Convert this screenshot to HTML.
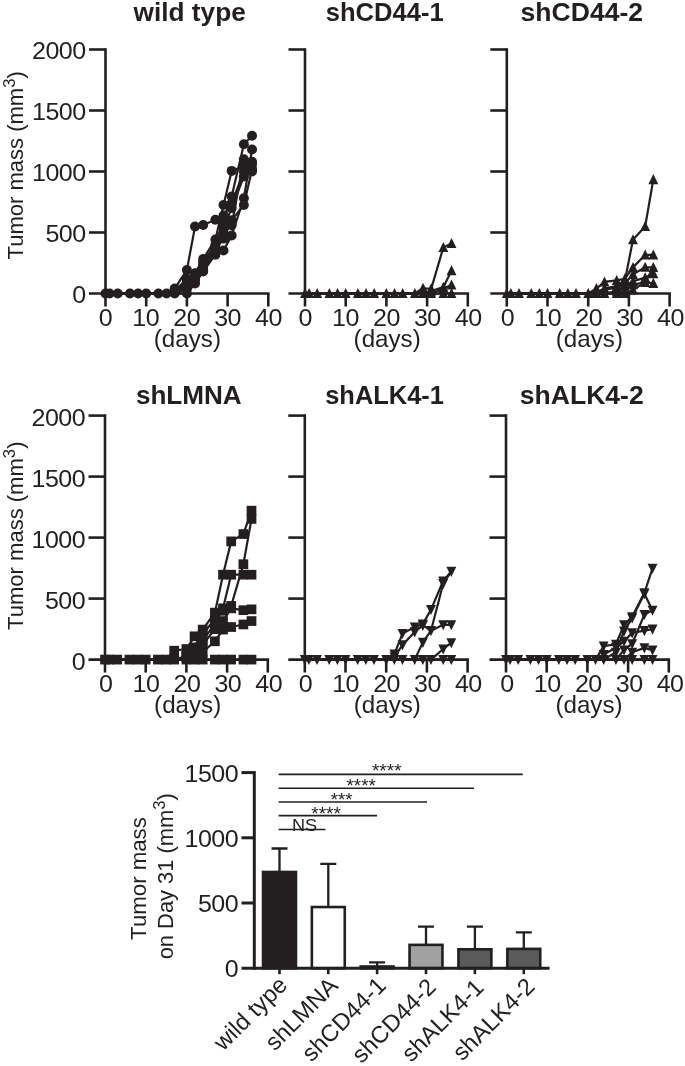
<!DOCTYPE html>
<html><head><meta charset="utf-8"><title>Tumor mass</title>
<style>
html,body{margin:0;padding:0;background:#fff;}
body{width:685px;height:1066px;overflow:hidden;font-family:"Liberation Sans", sans-serif;}
svg{display:block;font-family:"Liberation Sans", sans-serif;will-change:transform;}
</style></head><body>
<svg width="685" height="1066" viewBox="0 0 685 1066">
<rect width="685" height="1066" fill="#ffffff"/>
<g stroke="#231f20" stroke-width="2.6" fill="none" stroke-linecap="butt">
<path d="M105.5 48.2V306.5"/>
<path d="M89 293.5H269.6"/>
<path d="M89 232.5H105.5"/>
<path d="M89 171.5H105.5"/>
<path d="M89 110.5H105.5"/>
<path d="M89 49.5H105.5"/>
<path d="M146.2 293.5V306.5"/>
<path d="M186.9 293.5V306.5"/>
<path d="M227.6 293.5V306.5"/>
<path d="M268.3 293.5V306.5"/>
</g>
<g fill="#231f20">
<text transform="translate(98.73 326) scale(1.062 1)" font-size="23.6" letter-spacing="-0.5">0</text>
<text transform="translate(132.26 326) scale(1.062 1)" font-size="23.6" letter-spacing="-0.5">10</text>
<text transform="translate(173.29 326) scale(1.062 1)" font-size="23.6" letter-spacing="-0.5">20</text>
<text transform="translate(214.14 326) scale(1.062 1)" font-size="23.6" letter-spacing="-0.5">30</text>
<text transform="translate(255.03 326) scale(1.062 1)" font-size="23.6" letter-spacing="-0.5">40</text>
<text transform="translate(153.8 346.5) scale(1.025 1)" font-size="23.6">(days)</text>
<text transform="translate(72.24 303.1) scale(1.062 1)" font-size="23.6" letter-spacing="-0.5">0</text>
<text transform="translate(45.42 242.1) scale(1.062 1)" font-size="23.6" letter-spacing="-0.5">500</text>
<text transform="translate(32.02 181.1) scale(1.062 1)" font-size="23.6" letter-spacing="-0.5">1000</text>
<text transform="translate(32.02 120.1) scale(1.062 1)" font-size="23.6" letter-spacing="-0.5">1500</text>
<text transform="translate(32.02 59.1) scale(1.062 1)" font-size="23.6" letter-spacing="-0.5">2000</text>
<text x="-0.5" y="0" transform="translate(22.6 259) rotate(-90) scale(0.9881 1)" font-size="22.3">Tumor mass (mm<tspan font-size="17" dy="-7.8">3</tspan><tspan dy="7.8">)</tspan></text>
<text transform="translate(133.58 20.7) scale(1.0492 1)" font-size="25" font-weight="bold">wild type</text>
</g>
<g stroke="#231f20" stroke-width="2.2" fill="none" stroke-linejoin="round">
<polyline points="105.5,293.5 109.57,293.5 117.71,293.5 129.92,293.5 138.06,293.5 146.2,293.5 158.41,293.5 166.55,293.5 174.69,288.62 186.9,269.95 195.04,226.52 203.18,224.94 215.39,219.81 223.53,215.42 231.67,203.22 243.88,171.5 252.02,169.06"/>
<polyline points="105.5,293.5 109.57,293.5 117.71,293.5 129.92,293.5 138.06,293.5 146.2,293.5 158.41,293.5 166.55,293.5 174.69,292.28 186.9,281.3 195.04,273.37 203.18,258.97 215.39,239.58 223.53,205.05 231.67,170.89 243.88,166.62 252.02,161.74"/>
<polyline points="105.5,293.5 109.57,293.5 117.71,293.5 129.92,293.5 138.06,293.5 146.2,293.5 158.41,293.5 166.55,293.5 174.69,293.5 186.9,286.18 195.04,276.42 203.18,261.78 215.39,244.7 223.53,220.3 231.67,196.51 243.88,144.17 252.02,135.75"/>
<polyline points="105.5,293.5 109.57,293.5 117.71,293.5 129.92,293.5 138.06,293.5 146.2,293.5 158.41,293.5 166.55,293.5 174.69,293.5 186.9,293.5 195.04,283.5 203.18,271.54 215.39,254.7 223.53,250.56 231.67,235.43 243.88,198.22 252.02,149.54"/>
<polyline points="105.5,293.5 109.57,293.5 117.71,293.5 129.92,293.5 138.06,293.5 146.2,293.5 158.41,293.5 166.55,293.5 174.69,291.06 186.9,278.86 195.04,280.08 203.18,265.44 215.39,249.58 223.53,238.6 231.67,220.18 243.88,205.05 252.02,169.55"/>
<polyline points="105.5,293.5 109.57,293.5 117.71,293.5 129.92,293.5 138.06,293.5 146.2,293.5 158.41,293.5 166.55,293.5 174.69,293.5 186.9,288.62 195.04,277.64 203.18,269.1 215.39,252.02 223.53,227.62 231.67,208.1 243.88,176.38 252.02,164.18"/>
<polyline points="105.5,293.5 109.57,293.5 117.71,293.5 129.92,293.5 138.06,293.5 146.2,293.5 158.41,293.5 166.55,293.5 174.69,293.5 186.9,283.74 195.04,275.2 203.18,263 215.39,247.14 223.53,232.5 231.67,225.18 243.88,159.3 252.02,171.5"/>
</g>
<g fill="#231f20">
<circle cx="105.5" cy="293.5" r="5.0"/>
<circle cx="109.57" cy="293.5" r="5.0"/>
<circle cx="117.71" cy="293.5" r="5.0"/>
<circle cx="129.92" cy="293.5" r="5.0"/>
<circle cx="138.06" cy="293.5" r="5.0"/>
<circle cx="146.2" cy="293.5" r="5.0"/>
<circle cx="158.41" cy="293.5" r="5.0"/>
<circle cx="166.55" cy="293.5" r="5.0"/>
<circle cx="174.69" cy="288.62" r="5.0"/>
<circle cx="186.9" cy="269.95" r="5.0"/>
<circle cx="195.04" cy="226.52" r="5.0"/>
<circle cx="203.18" cy="224.94" r="5.0"/>
<circle cx="215.39" cy="219.81" r="5.0"/>
<circle cx="223.53" cy="215.42" r="5.0"/>
<circle cx="231.67" cy="203.22" r="5.0"/>
<circle cx="243.88" cy="171.5" r="5.0"/>
<circle cx="252.02" cy="169.06" r="5.0"/>
<circle cx="174.69" cy="292.28" r="5.0"/>
<circle cx="186.9" cy="281.3" r="5.0"/>
<circle cx="195.04" cy="273.37" r="5.0"/>
<circle cx="203.18" cy="258.97" r="5.0"/>
<circle cx="215.39" cy="239.58" r="5.0"/>
<circle cx="223.53" cy="205.05" r="5.0"/>
<circle cx="231.67" cy="170.89" r="5.0"/>
<circle cx="243.88" cy="166.62" r="5.0"/>
<circle cx="252.02" cy="161.74" r="5.0"/>
<circle cx="174.69" cy="293.5" r="5.0"/>
<circle cx="186.9" cy="286.18" r="5.0"/>
<circle cx="195.04" cy="276.42" r="5.0"/>
<circle cx="203.18" cy="261.78" r="5.0"/>
<circle cx="215.39" cy="244.7" r="5.0"/>
<circle cx="223.53" cy="220.3" r="5.0"/>
<circle cx="231.67" cy="196.51" r="5.0"/>
<circle cx="243.88" cy="144.17" r="5.0"/>
<circle cx="252.02" cy="135.75" r="5.0"/>
<circle cx="186.9" cy="293.5" r="5.0"/>
<circle cx="195.04" cy="283.5" r="5.0"/>
<circle cx="203.18" cy="271.54" r="5.0"/>
<circle cx="215.39" cy="254.7" r="5.0"/>
<circle cx="223.53" cy="250.56" r="5.0"/>
<circle cx="231.67" cy="235.43" r="5.0"/>
<circle cx="243.88" cy="198.22" r="5.0"/>
<circle cx="252.02" cy="149.54" r="5.0"/>
<circle cx="174.69" cy="291.06" r="5.0"/>
<circle cx="186.9" cy="278.86" r="5.0"/>
<circle cx="195.04" cy="280.08" r="5.0"/>
<circle cx="203.18" cy="265.44" r="5.0"/>
<circle cx="215.39" cy="249.58" r="5.0"/>
<circle cx="223.53" cy="238.6" r="5.0"/>
<circle cx="231.67" cy="220.18" r="5.0"/>
<circle cx="243.88" cy="205.05" r="5.0"/>
<circle cx="252.02" cy="169.55" r="5.0"/>
<circle cx="186.9" cy="288.62" r="5.0"/>
<circle cx="195.04" cy="277.64" r="5.0"/>
<circle cx="203.18" cy="269.1" r="5.0"/>
<circle cx="215.39" cy="252.02" r="5.0"/>
<circle cx="223.53" cy="227.62" r="5.0"/>
<circle cx="231.67" cy="208.1" r="5.0"/>
<circle cx="243.88" cy="176.38" r="5.0"/>
<circle cx="252.02" cy="164.18" r="5.0"/>
<circle cx="186.9" cy="283.74" r="5.0"/>
<circle cx="195.04" cy="275.2" r="5.0"/>
<circle cx="203.18" cy="263" r="5.0"/>
<circle cx="215.39" cy="247.14" r="5.0"/>
<circle cx="223.53" cy="232.5" r="5.0"/>
<circle cx="231.67" cy="225.18" r="5.0"/>
<circle cx="243.88" cy="159.3" r="5.0"/>
<circle cx="252.02" cy="171.5" r="5.0"/>
</g>
<g stroke="#231f20" stroke-width="2.6" fill="none" stroke-linecap="butt">
<path d="M305 48.2V306.5"/>
<path d="M288.5 293.5H469.1"/>
<path d="M288.5 232.5H305"/>
<path d="M288.5 171.5H305"/>
<path d="M288.5 110.5H305"/>
<path d="M288.5 49.5H305"/>
<path d="M345.7 293.5V306.5"/>
<path d="M386.4 293.5V306.5"/>
<path d="M427.1 293.5V306.5"/>
<path d="M467.8 293.5V306.5"/>
</g>
<g fill="#231f20">
<text transform="translate(298.53 326) scale(1.062 1)" font-size="23.6" letter-spacing="-0.5">0</text>
<text transform="translate(332.06 326) scale(1.062 1)" font-size="23.6" letter-spacing="-0.5">10</text>
<text transform="translate(373.09 326) scale(1.062 1)" font-size="23.6" letter-spacing="-0.5">20</text>
<text transform="translate(413.94 326) scale(1.062 1)" font-size="23.6" letter-spacing="-0.5">30</text>
<text transform="translate(454.83 326) scale(1.062 1)" font-size="23.6" letter-spacing="-0.5">40</text>
<text transform="translate(353.6 346.5) scale(1.025 1)" font-size="23.6">(days)</text>
<text transform="translate(325.7 20.7) scale(1.0233 1)" font-size="25" font-weight="bold">shCD44-1</text>
</g>
<g stroke="#231f20" stroke-width="2.2" fill="none" stroke-linejoin="round">
<polyline points="305,293.5 309.07,293.5 317.21,293.5 329.42,293.5 337.56,293.5 345.7,293.5 357.91,293.5 366.05,293.5 374.19,293.5 386.4,293.5 394.54,293.5 402.68,293.5 414.89,293.5 423.03,288.25 431.17,288.86 443.38,247.38 451.52,243.48"/>
<polyline points="305,293.5 309.07,293.5 317.21,293.5 329.42,293.5 337.56,293.5 345.7,293.5 357.91,293.5 366.05,293.5 374.19,293.5 386.4,293.5 394.54,293.5 402.68,293.5 414.89,293.5 423.03,293.5 431.17,291.06 443.38,287.16 451.52,270.56"/>
<polyline points="305,293.5 309.07,293.5 317.21,293.5 329.42,293.5 337.56,293.5 345.7,293.5 357.91,293.5 366.05,293.5 374.19,293.5 386.4,293.5 394.54,293.5 402.68,293.5 414.89,293.5 423.03,293.5 431.17,293.5 443.38,288.62 451.52,284.96"/>
<polyline points="305,293.5 309.07,293.5 317.21,293.5 329.42,293.5 337.56,293.5 345.7,293.5 357.91,293.5 366.05,293.5 374.19,293.5 386.4,293.5 394.54,293.5 402.68,293.5 414.89,293.5 423.03,293.5 431.17,293.5 443.38,293.5 451.52,293.5"/>
</g>
<g fill="#231f20">
<path d="M305 288L309.95 298.1L300.05 298.1Z"/>
<path d="M309.07 288L314.02 298.1L304.12 298.1Z"/>
<path d="M317.21 288L322.16 298.1L312.26 298.1Z"/>
<path d="M329.42 288L334.37 298.1L324.47 298.1Z"/>
<path d="M337.56 288L342.51 298.1L332.61 298.1Z"/>
<path d="M345.7 288L350.65 298.1L340.75 298.1Z"/>
<path d="M357.91 288L362.86 298.1L352.96 298.1Z"/>
<path d="M366.05 288L371 298.1L361.1 298.1Z"/>
<path d="M374.19 288L379.14 298.1L369.24 298.1Z"/>
<path d="M386.4 288L391.35 298.1L381.45 298.1Z"/>
<path d="M394.54 288L399.49 298.1L389.59 298.1Z"/>
<path d="M402.68 288L407.63 298.1L397.73 298.1Z"/>
<path d="M414.89 288L419.84 298.1L409.94 298.1Z"/>
<path d="M423.03 282.75L427.98 292.85L418.08 292.85Z"/>
<path d="M431.17 283.36L436.12 293.46L426.22 293.46Z"/>
<path d="M443.38 241.88L448.33 251.98L438.43 251.98Z"/>
<path d="M451.52 237.98L456.47 248.08L446.57 248.08Z"/>
<path d="M423.03 288L427.98 298.1L418.08 298.1Z"/>
<path d="M431.17 285.56L436.12 295.66L426.22 295.66Z"/>
<path d="M443.38 281.66L448.33 291.76L438.43 291.76Z"/>
<path d="M451.52 265.06L456.47 275.16L446.57 275.16Z"/>
<path d="M431.17 288L436.12 298.1L426.22 298.1Z"/>
<path d="M443.38 283.12L448.33 293.22L438.43 293.22Z"/>
<path d="M451.52 279.46L456.47 289.56L446.57 289.56Z"/>
<path d="M443.38 288L448.33 298.1L438.43 298.1Z"/>
<path d="M451.52 288L456.47 298.1L446.57 298.1Z"/>
</g>
<g stroke="#231f20" stroke-width="2.6" fill="none" stroke-linecap="butt">
<path d="M506.8 48.2V306.5"/>
<path d="M490.3 293.5H670.9"/>
<path d="M490.3 232.5H506.8"/>
<path d="M490.3 171.5H506.8"/>
<path d="M490.3 110.5H506.8"/>
<path d="M490.3 49.5H506.8"/>
<path d="M547.5 293.5V306.5"/>
<path d="M588.2 293.5V306.5"/>
<path d="M628.9 293.5V306.5"/>
<path d="M669.6 293.5V306.5"/>
</g>
<g fill="#231f20">
<text transform="translate(500.73 326) scale(1.062 1)" font-size="23.6" letter-spacing="-0.5">0</text>
<text transform="translate(534.26 326) scale(1.062 1)" font-size="23.6" letter-spacing="-0.5">10</text>
<text transform="translate(575.29 326) scale(1.062 1)" font-size="23.6" letter-spacing="-0.5">20</text>
<text transform="translate(616.14 326) scale(1.062 1)" font-size="23.6" letter-spacing="-0.5">30</text>
<text transform="translate(657.03 326) scale(1.062 1)" font-size="23.6" letter-spacing="-0.5">40</text>
<text transform="translate(555.8 346.5) scale(1.025 1)" font-size="23.6">(days)</text>
<text transform="translate(520.57 20.7) scale(1.0631 1)" font-size="25" font-weight="bold">shCD44-2</text>
</g>
<g stroke="#231f20" stroke-width="2.2" fill="none" stroke-linejoin="round">
<polyline points="506.8,293.5 510.87,293.5 519.01,293.5 531.22,293.5 539.36,293.5 547.5,293.5 559.71,293.5 567.85,293.5 575.99,293.5 588.2,293.5 596.34,292.28 604.48,288.62 616.69,286.18 624.83,281.3 632.97,239.7 645.18,226.4 653.32,179.55"/>
<polyline points="506.8,293.5 510.87,293.5 519.01,293.5 531.22,293.5 539.36,293.5 547.5,293.5 559.71,293.5 567.85,293.5 575.99,293.5 588.2,293.5 596.34,288.62 604.48,281.91 616.69,280.45 624.83,278.86 632.97,267.39 645.18,254.95 653.32,254.95"/>
<polyline points="506.8,293.5 510.87,293.5 519.01,293.5 531.22,293.5 539.36,293.5 547.5,293.5 559.71,293.5 567.85,293.5 575.99,293.5 588.2,293.5 596.34,293.5 604.48,289.84 616.69,287.4 624.83,283.74 632.97,274.35 645.18,267.27 653.32,267.39"/>
<polyline points="506.8,293.5 510.87,293.5 519.01,293.5 531.22,293.5 539.36,293.5 547.5,293.5 559.71,293.5 567.85,293.5 575.99,293.5 588.2,293.5 596.34,293.5 604.48,293.5 616.69,291.06 624.83,286.18 632.97,281.3 645.18,277.64 653.32,273.61"/>
<polyline points="506.8,293.5 510.87,293.5 519.01,293.5 531.22,293.5 539.36,293.5 547.5,293.5 559.71,293.5 567.85,293.5 575.99,293.5 588.2,293.5 596.34,293.5 604.48,293.5 616.69,293.5 624.83,291.06 632.97,284.59 645.18,282.4 653.32,283.37"/>
<polyline points="506.8,293.5 510.87,293.5 519.01,293.5 531.22,293.5 539.36,293.5 547.5,293.5 559.71,293.5 567.85,293.5 575.99,293.5 588.2,293.5 596.34,293.5 604.48,293.5 616.69,293.5 624.83,293.5 632.97,289.84 645.18,282.4 653.32,267.39"/>
</g>
<g fill="#231f20">
<path d="M506.8 288L511.75 298.1L501.85 298.1Z"/>
<path d="M510.87 288L515.82 298.1L505.92 298.1Z"/>
<path d="M519.01 288L523.96 298.1L514.06 298.1Z"/>
<path d="M531.22 288L536.17 298.1L526.27 298.1Z"/>
<path d="M539.36 288L544.31 298.1L534.41 298.1Z"/>
<path d="M547.5 288L552.45 298.1L542.55 298.1Z"/>
<path d="M559.71 288L564.66 298.1L554.76 298.1Z"/>
<path d="M567.85 288L572.8 298.1L562.9 298.1Z"/>
<path d="M575.99 288L580.94 298.1L571.04 298.1Z"/>
<path d="M588.2 288L593.15 298.1L583.25 298.1Z"/>
<path d="M596.34 286.78L601.29 296.88L591.39 296.88Z"/>
<path d="M604.48 283.12L609.43 293.22L599.53 293.22Z"/>
<path d="M616.69 280.68L621.64 290.78L611.74 290.78Z"/>
<path d="M624.83 275.8L629.78 285.9L619.88 285.9Z"/>
<path d="M632.97 234.2L637.92 244.3L628.02 244.3Z"/>
<path d="M645.18 220.9L650.13 231L640.23 231Z"/>
<path d="M653.32 174.05L658.27 184.15L648.37 184.15Z"/>
<path d="M596.34 283.12L601.29 293.22L591.39 293.22Z"/>
<path d="M604.48 276.41L609.43 286.51L599.53 286.51Z"/>
<path d="M616.69 274.95L621.64 285.05L611.74 285.05Z"/>
<path d="M624.83 273.36L629.78 283.46L619.88 283.46Z"/>
<path d="M632.97 261.89L637.92 271.99L628.02 271.99Z"/>
<path d="M645.18 249.45L650.13 259.55L640.23 259.55Z"/>
<path d="M653.32 249.45L658.27 259.55L648.37 259.55Z"/>
<path d="M596.34 288L601.29 298.1L591.39 298.1Z"/>
<path d="M604.48 284.34L609.43 294.44L599.53 294.44Z"/>
<path d="M616.69 281.9L621.64 292L611.74 292Z"/>
<path d="M624.83 278.24L629.78 288.34L619.88 288.34Z"/>
<path d="M632.97 268.85L637.92 278.95L628.02 278.95Z"/>
<path d="M645.18 261.77L650.13 271.87L640.23 271.87Z"/>
<path d="M653.32 261.89L658.27 271.99L648.37 271.99Z"/>
<path d="M604.48 288L609.43 298.1L599.53 298.1Z"/>
<path d="M616.69 285.56L621.64 295.66L611.74 295.66Z"/>
<path d="M624.83 280.68L629.78 290.78L619.88 290.78Z"/>
<path d="M632.97 275.8L637.92 285.9L628.02 285.9Z"/>
<path d="M645.18 272.14L650.13 282.24L640.23 282.24Z"/>
<path d="M653.32 268.11L658.27 278.21L648.37 278.21Z"/>
<path d="M616.69 288L621.64 298.1L611.74 298.1Z"/>
<path d="M624.83 285.56L629.78 295.66L619.88 295.66Z"/>
<path d="M632.97 279.09L637.92 289.19L628.02 289.19Z"/>
<path d="M645.18 276.9L650.13 287L640.23 287Z"/>
<path d="M653.32 277.87L658.27 287.97L648.37 287.97Z"/>
<path d="M624.83 288L629.78 298.1L619.88 298.1Z"/>
<path d="M632.97 284.34L637.92 294.44L628.02 294.44Z"/>
</g>
<g stroke="#231f20" stroke-width="2.6" fill="none" stroke-linecap="butt">
<path d="M105 414.3V672.6"/>
<path d="M88.5 659.6H269.1"/>
<path d="M88.5 598.6H105"/>
<path d="M88.5 537.6H105"/>
<path d="M88.5 476.6H105"/>
<path d="M88.5 415.6H105"/>
<path d="M145.7 659.6V672.6"/>
<path d="M186.4 659.6V672.6"/>
<path d="M227.1 659.6V672.6"/>
<path d="M267.8 659.6V672.6"/>
</g>
<g fill="#231f20">
<text transform="translate(99.03 692.1) scale(1.062 1)" font-size="23.6" letter-spacing="-0.5">0</text>
<text transform="translate(132.56 692.1) scale(1.062 1)" font-size="23.6" letter-spacing="-0.5">10</text>
<text transform="translate(173.59 692.1) scale(1.062 1)" font-size="23.6" letter-spacing="-0.5">20</text>
<text transform="translate(214.44 692.1) scale(1.062 1)" font-size="23.6" letter-spacing="-0.5">30</text>
<text transform="translate(255.33 692.1) scale(1.062 1)" font-size="23.6" letter-spacing="-0.5">40</text>
<text transform="translate(154.1 712.6) scale(1.025 1)" font-size="23.6">(days)</text>
<text transform="translate(71.74 669.8) scale(1.062 1)" font-size="23.6" letter-spacing="-0.5">0</text>
<text transform="translate(44.92 608.8) scale(1.062 1)" font-size="23.6" letter-spacing="-0.5">500</text>
<text transform="translate(31.52 547.8) scale(1.062 1)" font-size="23.6" letter-spacing="-0.5">1000</text>
<text transform="translate(31.52 486.8) scale(1.062 1)" font-size="23.6" letter-spacing="-0.5">1500</text>
<text transform="translate(31.52 425.8) scale(1.062 1)" font-size="23.6" letter-spacing="-0.5">2000</text>
<text x="-0.5" y="0" transform="translate(22.6 629.4) rotate(-90) scale(0.9881 1)" font-size="22.3">Tumor mass (mm<tspan font-size="17" dy="-7.8">3</tspan><tspan dy="7.8">)</tspan></text>
<text transform="translate(135.88 404.1) scale(1.0447 1)" font-size="25" font-weight="bold">shLMNA</text>
</g>
<g stroke="#231f20" stroke-width="2.2" fill="none" stroke-linejoin="round">
<polyline points="105,659.6 109.07,659.6 117.21,659.6 129.42,659.6 137.56,659.6 145.7,659.6 157.91,659.6 166.05,659.6 174.19,659.6 186.4,655.94 194.54,647.4 202.68,629.59 214.89,612.63 223.03,574.69 231.17,541.38 243.38,534.06 251.52,510.64"/>
<polyline points="105,659.6 109.07,659.6 117.21,659.6 129.42,659.6 137.56,659.6 145.7,659.6 157.91,659.6 166.05,659.6 174.19,659.6 186.4,659.6 194.54,653.5 202.68,641.3 214.89,623 223.03,608.36 231.17,574.69 243.38,574.69 251.52,574.69"/>
<polyline points="105,659.6 109.07,659.6 117.21,659.6 129.42,659.6 137.56,659.6 145.7,659.6 157.91,659.6 166.05,659.6 174.19,650.69 186.4,648.99 194.54,636.3 202.68,635.2 214.89,618.12 223.03,610.8 231.17,605.92 243.38,564.2 251.52,518.93"/>
<polyline points="105,659.6 109.07,659.6 117.21,659.6 129.42,659.6 137.56,659.6 145.7,659.6 157.91,659.6 166.05,659.6 174.19,659.6 186.4,657.16 194.54,649.84 202.68,644.96 214.89,629.1 223.03,621.05 231.17,608.36 243.38,610.19 251.52,609.34"/>
<polyline points="105,659.6 109.07,659.6 117.21,659.6 129.42,659.6 137.56,659.6 145.7,659.6 157.91,659.6 166.05,659.6 174.19,659.6 186.4,659.6 194.54,655.94 202.68,652.28 214.89,641.3 223.03,629.59 231.17,627.03 243.38,624.46 251.52,621.05"/>
<polyline points="105,659.6 109.07,659.6 117.21,659.6 129.42,659.6 137.56,659.6 145.7,659.6 157.91,659.6 166.05,659.6 174.19,659.6 186.4,659.6 194.54,659.6 202.68,659.6 214.89,659.6 223.03,659.6 231.17,659.6 243.38,659.6 251.52,659.6"/>
</g>
<g fill="#231f20">
<rect x="100.15" y="654.75" width="9.7" height="9.7"/>
<rect x="104.22" y="654.75" width="9.7" height="9.7"/>
<rect x="112.36" y="654.75" width="9.7" height="9.7"/>
<rect x="124.57" y="654.75" width="9.7" height="9.7"/>
<rect x="132.71" y="654.75" width="9.7" height="9.7"/>
<rect x="140.85" y="654.75" width="9.7" height="9.7"/>
<rect x="153.06" y="654.75" width="9.7" height="9.7"/>
<rect x="161.2" y="654.75" width="9.7" height="9.7"/>
<rect x="169.34" y="654.75" width="9.7" height="9.7"/>
<rect x="181.55" y="651.09" width="9.7" height="9.7"/>
<rect x="189.69" y="642.55" width="9.7" height="9.7"/>
<rect x="197.83" y="624.74" width="9.7" height="9.7"/>
<rect x="210.04" y="607.78" width="9.7" height="9.7"/>
<rect x="218.18" y="569.84" width="9.7" height="9.7"/>
<rect x="226.32" y="536.53" width="9.7" height="9.7"/>
<rect x="238.53" y="529.21" width="9.7" height="9.7"/>
<rect x="246.67" y="505.79" width="9.7" height="9.7"/>
<rect x="181.55" y="654.75" width="9.7" height="9.7"/>
<rect x="189.69" y="648.65" width="9.7" height="9.7"/>
<rect x="197.83" y="636.45" width="9.7" height="9.7"/>
<rect x="210.04" y="618.15" width="9.7" height="9.7"/>
<rect x="218.18" y="603.51" width="9.7" height="9.7"/>
<rect x="226.32" y="569.84" width="9.7" height="9.7"/>
<rect x="238.53" y="569.84" width="9.7" height="9.7"/>
<rect x="246.67" y="569.84" width="9.7" height="9.7"/>
<rect x="169.34" y="645.84" width="9.7" height="9.7"/>
<rect x="181.55" y="644.14" width="9.7" height="9.7"/>
<rect x="189.69" y="631.45" width="9.7" height="9.7"/>
<rect x="197.83" y="630.35" width="9.7" height="9.7"/>
<rect x="210.04" y="613.27" width="9.7" height="9.7"/>
<rect x="218.18" y="605.95" width="9.7" height="9.7"/>
<rect x="226.32" y="601.07" width="9.7" height="9.7"/>
<rect x="238.53" y="559.35" width="9.7" height="9.7"/>
<rect x="246.67" y="514.08" width="9.7" height="9.7"/>
<rect x="181.55" y="652.31" width="9.7" height="9.7"/>
<rect x="189.69" y="644.99" width="9.7" height="9.7"/>
<rect x="197.83" y="640.11" width="9.7" height="9.7"/>
<rect x="210.04" y="624.25" width="9.7" height="9.7"/>
<rect x="218.18" y="616.2" width="9.7" height="9.7"/>
<rect x="226.32" y="603.51" width="9.7" height="9.7"/>
<rect x="238.53" y="605.34" width="9.7" height="9.7"/>
<rect x="246.67" y="604.49" width="9.7" height="9.7"/>
<rect x="189.69" y="651.09" width="9.7" height="9.7"/>
<rect x="197.83" y="647.43" width="9.7" height="9.7"/>
<rect x="210.04" y="636.45" width="9.7" height="9.7"/>
<rect x="218.18" y="624.74" width="9.7" height="9.7"/>
<rect x="226.32" y="622.18" width="9.7" height="9.7"/>
<rect x="238.53" y="619.61" width="9.7" height="9.7"/>
<rect x="246.67" y="616.2" width="9.7" height="9.7"/>
<rect x="189.69" y="654.75" width="9.7" height="9.7"/>
<rect x="197.83" y="654.75" width="9.7" height="9.7"/>
<rect x="210.04" y="654.75" width="9.7" height="9.7"/>
<rect x="218.18" y="654.75" width="9.7" height="9.7"/>
<rect x="226.32" y="654.75" width="9.7" height="9.7"/>
<rect x="238.53" y="654.75" width="9.7" height="9.7"/>
<rect x="246.67" y="654.75" width="9.7" height="9.7"/>
</g>
<g stroke="#231f20" stroke-width="2.6" fill="none" stroke-linecap="butt">
<path d="M304.8 414.3V672.6"/>
<path d="M288.3 659.6H468.9"/>
<path d="M288.3 598.6H304.8"/>
<path d="M288.3 537.6H304.8"/>
<path d="M288.3 476.6H304.8"/>
<path d="M288.3 415.6H304.8"/>
<path d="M345.5 659.6V672.6"/>
<path d="M386.2 659.6V672.6"/>
<path d="M426.9 659.6V672.6"/>
<path d="M467.6 659.6V672.6"/>
</g>
<g fill="#231f20">
<text transform="translate(298.63 692.1) scale(1.062 1)" font-size="23.6" letter-spacing="-0.5">0</text>
<text transform="translate(332.16 692.1) scale(1.062 1)" font-size="23.6" letter-spacing="-0.5">10</text>
<text transform="translate(373.19 692.1) scale(1.062 1)" font-size="23.6" letter-spacing="-0.5">20</text>
<text transform="translate(414.04 692.1) scale(1.062 1)" font-size="23.6" letter-spacing="-0.5">30</text>
<text transform="translate(454.93 692.1) scale(1.062 1)" font-size="23.6" letter-spacing="-0.5">40</text>
<text transform="translate(353.7 712.6) scale(1.025 1)" font-size="23.6">(days)</text>
<text transform="translate(325.21 404.1) scale(1.0181 1)" font-size="25" font-weight="bold">shALK4-1</text>
</g>
<g stroke="#231f20" stroke-width="2.2" fill="none" stroke-linejoin="round">
<polyline points="304.8,659.6 308.87,659.6 317.01,659.6 329.22,659.6 337.36,659.6 345.5,659.6 357.71,659.6 365.85,659.6 373.99,659.6 386.2,659.6 394.34,654.11 402.48,633.61 414.69,627.03 422.83,624.1 430.97,609.58 443.18,581.03 451.32,571.39"/>
<polyline points="304.8,659.6 308.87,659.6 317.01,659.6 329.22,659.6 337.36,659.6 345.5,659.6 357.71,659.6 365.85,659.6 373.99,659.6 386.2,659.6 394.34,657.16 402.48,644.96 414.69,631.91 422.83,625.44 430.97,630.69 443.18,583.72 451.32,571.39"/>
<polyline points="304.8,659.6 308.87,659.6 317.01,659.6 329.22,659.6 337.36,659.6 345.5,659.6 357.71,659.6 365.85,659.6 373.99,659.6 386.2,659.6 394.34,659.6 402.48,659.6 414.69,659.6 422.83,642.4 430.97,630.69 443.18,624.83 451.32,624.83"/>
<polyline points="304.8,659.6 308.87,659.6 317.01,659.6 329.22,659.6 337.36,659.6 345.5,659.6 357.71,659.6 365.85,659.6 373.99,659.6 386.2,659.6 394.34,659.6 402.48,659.6 414.69,659.6 422.83,659.6 430.97,659.6 443.18,648.99 451.32,642.76"/>
<polyline points="304.8,659.6 308.87,659.6 317.01,659.6 329.22,659.6 337.36,659.6 345.5,659.6 357.71,659.6 365.85,659.6 373.99,659.6 386.2,659.6 394.34,659.6 402.48,659.6 414.69,659.6 422.83,659.6 430.97,659.6 443.18,659.6 451.32,659.6"/>
</g>
<g fill="#231f20">
<path d="M299.85 655L309.75 655L304.8 665.1Z"/>
<path d="M303.92 655L313.82 655L308.87 665.1Z"/>
<path d="M312.06 655L321.96 655L317.01 665.1Z"/>
<path d="M324.27 655L334.17 655L329.22 665.1Z"/>
<path d="M332.41 655L342.31 655L337.36 665.1Z"/>
<path d="M340.55 655L350.45 655L345.5 665.1Z"/>
<path d="M352.76 655L362.66 655L357.71 665.1Z"/>
<path d="M360.9 655L370.8 655L365.85 665.1Z"/>
<path d="M369.04 655L378.94 655L373.99 665.1Z"/>
<path d="M381.25 655L391.15 655L386.2 665.1Z"/>
<path d="M389.39 649.51L399.29 649.51L394.34 659.61Z"/>
<path d="M397.53 629.01L407.43 629.01L402.48 639.11Z"/>
<path d="M409.74 622.43L419.64 622.43L414.69 632.53Z"/>
<path d="M417.88 619.5L427.78 619.5L422.83 629.6Z"/>
<path d="M426.02 604.98L435.92 604.98L430.97 615.08Z"/>
<path d="M438.23 576.43L448.13 576.43L443.18 586.53Z"/>
<path d="M446.37 566.79L456.27 566.79L451.32 576.89Z"/>
<path d="M389.39 652.56L399.29 652.56L394.34 662.66Z"/>
<path d="M397.53 640.36L407.43 640.36L402.48 650.46Z"/>
<path d="M409.74 627.31L419.64 627.31L414.69 637.41Z"/>
<path d="M417.88 620.84L427.78 620.84L422.83 630.94Z"/>
<path d="M426.02 626.09L435.92 626.09L430.97 636.19Z"/>
<path d="M438.23 579.12L448.13 579.12L443.18 589.22Z"/>
<path d="M389.39 655L399.29 655L394.34 665.1Z"/>
<path d="M397.53 655L407.43 655L402.48 665.1Z"/>
<path d="M409.74 655L419.64 655L414.69 665.1Z"/>
<path d="M417.88 637.8L427.78 637.8L422.83 647.9Z"/>
<path d="M438.23 620.23L448.13 620.23L443.18 630.33Z"/>
<path d="M446.37 620.23L456.27 620.23L451.32 630.33Z"/>
<path d="M417.88 655L427.78 655L422.83 665.1Z"/>
<path d="M426.02 655L435.92 655L430.97 665.1Z"/>
<path d="M438.23 644.39L448.13 644.39L443.18 654.49Z"/>
<path d="M446.37 638.16L456.27 638.16L451.32 648.26Z"/>
<path d="M438.23 655L448.13 655L443.18 665.1Z"/>
<path d="M446.37 655L456.27 655L451.32 665.1Z"/>
</g>
<g stroke="#231f20" stroke-width="2.6" fill="none" stroke-linecap="butt">
<path d="M506 414.3V672.6"/>
<path d="M489.5 659.6H670.1"/>
<path d="M489.5 598.6H506"/>
<path d="M489.5 537.6H506"/>
<path d="M489.5 476.6H506"/>
<path d="M489.5 415.6H506"/>
<path d="M546.7 659.6V672.6"/>
<path d="M587.4 659.6V672.6"/>
<path d="M628.1 659.6V672.6"/>
<path d="M668.8 659.6V672.6"/>
</g>
<g fill="#231f20">
<text transform="translate(500.33 692.1) scale(1.062 1)" font-size="23.6" letter-spacing="-0.5">0</text>
<text transform="translate(533.86 692.1) scale(1.062 1)" font-size="23.6" letter-spacing="-0.5">10</text>
<text transform="translate(574.89 692.1) scale(1.062 1)" font-size="23.6" letter-spacing="-0.5">20</text>
<text transform="translate(615.74 692.1) scale(1.062 1)" font-size="23.6" letter-spacing="-0.5">30</text>
<text transform="translate(656.63 692.1) scale(1.062 1)" font-size="23.6" letter-spacing="-0.5">40</text>
<text transform="translate(555.4 712.6) scale(1.025 1)" font-size="23.6">(days)</text>
<text transform="translate(519.77 404) scale(1.0627 1)" font-size="25" font-weight="bold">shALK4-2</text>
</g>
<g stroke="#231f20" stroke-width="2.2" fill="none" stroke-linejoin="round">
<polyline points="506,659.6 510.07,659.6 518.21,659.6 530.42,659.6 538.56,659.6 546.7,659.6 558.91,659.6 567.05,659.6 575.19,659.6 587.4,659.6 595.54,659.6 603.68,646.06 615.89,644.23 624.03,624.83 632.17,616.78 644.38,592.74 652.52,568.34"/>
<polyline points="506,659.6 510.07,659.6 518.21,659.6 530.42,659.6 538.56,659.6 546.7,659.6 558.91,659.6 567.05,659.6 575.19,659.6 587.4,659.6 595.54,659.6 603.68,659.6 615.89,652.28 624.03,631.17 632.17,618.12 644.38,593.72 652.52,610.31"/>
<polyline points="506,659.6 510.07,659.6 518.21,659.6 530.42,659.6 538.56,659.6 546.7,659.6 558.91,659.6 567.05,659.6 575.19,659.6 587.4,659.6 595.54,659.6 603.68,654.72 615.89,647.4 624.03,641.3 632.17,632.88 644.38,630.69 652.52,629.22"/>
<polyline points="506,659.6 510.07,659.6 518.21,659.6 530.42,659.6 538.56,659.6 546.7,659.6 558.91,659.6 567.05,659.6 575.19,659.6 587.4,659.6 595.54,659.6 603.68,659.6 615.89,659.6 624.03,650.08 632.17,643.74 644.38,614.58 652.52,610.31"/>
<polyline points="506,659.6 510.07,659.6 518.21,659.6 530.42,659.6 538.56,659.6 546.7,659.6 558.91,659.6 567.05,659.6 575.19,659.6 587.4,659.6 595.54,659.6 603.68,659.6 615.89,659.6 624.03,659.6 632.17,652.28 644.38,647.89 652.52,650.08"/>
<polyline points="506,659.6 510.07,659.6 518.21,659.6 530.42,659.6 538.56,659.6 546.7,659.6 558.91,659.6 567.05,659.6 575.19,659.6 587.4,659.6 595.54,659.6 603.68,659.6 615.89,659.6 624.03,659.6 632.17,659.6 644.38,659.6 652.52,659.6"/>
</g>
<g fill="#231f20">
<path d="M501.05 655L510.95 655L506 665.1Z"/>
<path d="M505.12 655L515.02 655L510.07 665.1Z"/>
<path d="M513.26 655L523.16 655L518.21 665.1Z"/>
<path d="M525.47 655L535.37 655L530.42 665.1Z"/>
<path d="M533.61 655L543.51 655L538.56 665.1Z"/>
<path d="M541.75 655L551.65 655L546.7 665.1Z"/>
<path d="M553.96 655L563.86 655L558.91 665.1Z"/>
<path d="M562.1 655L572 655L567.05 665.1Z"/>
<path d="M570.24 655L580.14 655L575.19 665.1Z"/>
<path d="M582.45 655L592.35 655L587.4 665.1Z"/>
<path d="M590.59 655L600.49 655L595.54 665.1Z"/>
<path d="M598.73 641.46L608.63 641.46L603.68 651.56Z"/>
<path d="M610.94 639.63L620.84 639.63L615.89 649.73Z"/>
<path d="M619.08 620.23L628.98 620.23L624.03 630.33Z"/>
<path d="M627.22 612.18L637.12 612.18L632.17 622.28Z"/>
<path d="M639.43 588.14L649.33 588.14L644.38 598.24Z"/>
<path d="M647.57 563.74L657.47 563.74L652.52 573.84Z"/>
<path d="M598.73 655L608.63 655L603.68 665.1Z"/>
<path d="M610.94 647.68L620.84 647.68L615.89 657.78Z"/>
<path d="M619.08 626.57L628.98 626.57L624.03 636.67Z"/>
<path d="M627.22 613.52L637.12 613.52L632.17 623.62Z"/>
<path d="M639.43 589.12L649.33 589.12L644.38 599.22Z"/>
<path d="M647.57 605.71L657.47 605.71L652.52 615.81Z"/>
<path d="M598.73 650.12L608.63 650.12L603.68 660.22Z"/>
<path d="M610.94 642.8L620.84 642.8L615.89 652.9Z"/>
<path d="M619.08 636.7L628.98 636.7L624.03 646.8Z"/>
<path d="M627.22 628.28L637.12 628.28L632.17 638.38Z"/>
<path d="M639.43 626.09L649.33 626.09L644.38 636.19Z"/>
<path d="M647.57 624.62L657.47 624.62L652.52 634.72Z"/>
<path d="M610.94 655L620.84 655L615.89 665.1Z"/>
<path d="M619.08 645.48L628.98 645.48L624.03 655.58Z"/>
<path d="M627.22 639.14L637.12 639.14L632.17 649.24Z"/>
<path d="M639.43 609.98L649.33 609.98L644.38 620.08Z"/>
<path d="M619.08 655L628.98 655L624.03 665.1Z"/>
<path d="M627.22 647.68L637.12 647.68L632.17 657.78Z"/>
<path d="M639.43 643.29L649.33 643.29L644.38 653.39Z"/>
<path d="M647.57 645.48L657.47 645.48L652.52 655.58Z"/>
<path d="M627.22 655L637.12 655L632.17 665.1Z"/>
<path d="M639.43 655L649.33 655L644.38 665.1Z"/>
<path d="M647.57 655L657.47 655L652.52 665.1Z"/>
</g>
<g stroke="#231f20" stroke-width="2.6">
<path d="M279.5 871.96V848.49M271.5 848.49H287.5" fill="none" stroke-width="2.3"/>
<rect x="263.05" y="871.96" width="32.9" height="96.24" fill="#231f20"/>
<path d="M279.5 968.2V974.2" fill="none"/>
<path d="M328.3 907.04V863.88M320.3 863.88H336.3" fill="none" stroke-width="2.3"/>
<rect x="311.85" y="907.04" width="32.9" height="61.16" fill="#ffffff"/>
<path d="M328.3 968.2V974.2" fill="none"/>
<path d="M377.1 966.5V962.46M369.1 962.46H385.1" fill="none" stroke-width="2.3"/>
<rect x="360.65" y="966.5" width="32.9" height="1.7" fill="#231f20"/>
<path d="M377.1 968.2V974.2" fill="none"/>
<path d="M426 944.86V926.6M418 926.6H434" fill="none" stroke-width="2.3"/>
<rect x="409.55" y="944.86" width="32.9" height="23.34" fill="#a1a1a1"/>
<path d="M426 968.2V974.2" fill="none"/>
<path d="M474.9 949.29V926.6M466.9 926.6H482.9" fill="none" stroke-width="2.3"/>
<rect x="458.45" y="949.29" width="32.9" height="18.91" fill="#5a5a5a"/>
<path d="M474.9 968.2V974.2" fill="none"/>
<path d="M523.8 948.9V932.47M515.8 932.47H531.8" fill="none" stroke-width="2.3"/>
<rect x="507.35" y="948.9" width="32.9" height="19.3" fill="#5a5a5a"/>
<path d="M523.8 968.2V974.2" fill="none"/>
</g>
<g stroke="#231f20" stroke-width="3.0" fill="none">
<path d="M254.3 771.1V969.7"/>
<path d="M241.5 968.2H549.6"/>
<path d="M241.5 903H254.3"/>
<path d="M241.5 837.8H254.3"/>
<path d="M241.5 772.6H254.3"/>
</g>
<g stroke="#231f20" stroke-width="1.6">
<path d="M278.6 774.4H522.8"/>
<path d="M278.6 788.3H473.9"/>
<path d="M278.6 802H427"/>
<path d="M278.6 815.6H377"/>
<path d="M278.6 829.5H325.5"/>
</g>
<g fill="#231f20">
<text transform="translate(371.89 777.2) scale(1.0638 1)" font-size="18">****</text>
<text transform="translate(346.5 792.1) scale(1.0492 1)" font-size="18">****</text>
<text transform="translate(330.7 806) scale(1.0419 1)" font-size="18">***</text>
<text transform="translate(311.29 819.8) scale(1.0565 1)" font-size="18">****</text>
<text transform="translate(292.02 830.7) scale(1.1023 1)" font-size="16.4">NS</text>
<text transform="translate(224.74 977.2) scale(1.062 1)" font-size="23.6" letter-spacing="-0.5">0</text>
<text transform="translate(197.92 912) scale(1.062 1)" font-size="23.6" letter-spacing="-0.5">500</text>
<text transform="translate(184.52 846.8) scale(1.062 1)" font-size="23.6" letter-spacing="-0.5">1000</text>
<text transform="translate(184.52 781.6) scale(1.062 1)" font-size="23.6" letter-spacing="-0.5">1500</text>
<text x="-0.5" y="0" transform="translate(146.2 939.4) rotate(-90) scale(0.9978 1)" font-size="22.3">Tumor mass</text>
<text x="-0.94" y="0" transform="translate(172.7 958.4) rotate(-90) scale(0.9815 1)" font-size="22.3">on Day 31 (mm<tspan font-size="17" dy="-7.8">3</tspan><tspan dy="7.8">)</tspan></text>
<text x="-90.77" y="0" transform="translate(288 987) rotate(-45) scale(1.01 1)" font-size="23.6">wild type</text>
<text x="-90.45" y="0" transform="translate(339.3 987.1) rotate(-45) scale(1.01 1)" font-size="23.6">shLMNA</text>
<text x="-105.09" y="0" transform="translate(386.6 987.7) rotate(-45) scale(1.01 1)" font-size="23.6">shCD44-1</text>
<text x="-105.06" y="0" transform="translate(436.6 989.2) rotate(-45) scale(1.01 1)" font-size="23.6">shCD44-2</text>
<text x="-102.49" y="0" transform="translate(484.4 989.7) rotate(-45) scale(1.01 1)" font-size="23.6">shALK4-1</text>
<text x="-102.45" y="0" transform="translate(535.3 988.7) rotate(-45) scale(1.01 1)" font-size="23.6">shALK4-2</text>
</g>
</svg>
</body></html>
